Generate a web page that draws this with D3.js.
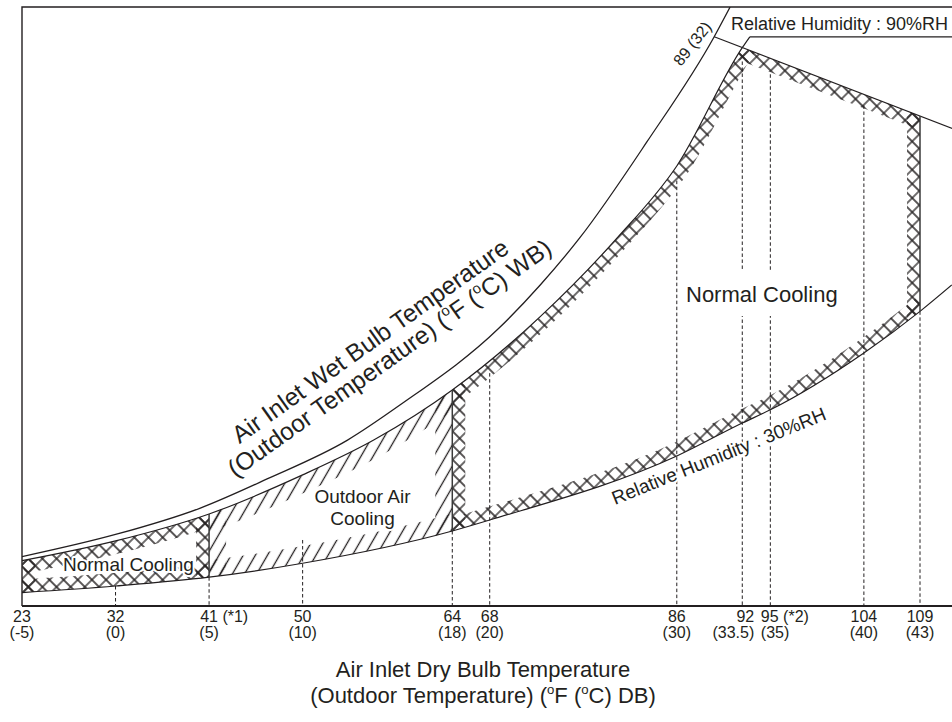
<!DOCTYPE html>
<html>
<head>
<meta charset="utf-8">
<script src="https://cdnjs.cloudflare.com/ajax/libs/d3/7.8.5/d3.min.js"></script>
<style>
body { margin: 0; background: #fff; }
text { font-family: "Liberation Sans", Arial, Helvetica, sans-serif; fill: #231f20; }
</style>
</head>
<body>
<script>
// dry bulb ticks: Fahrenheit label, Celsius value, footnote mark
var tickF = ["23", "32", "41", "50", "64", "68", "86", "92", "95", "104", "109"];
var tickC = [-5, 0, 5, 10, 18, 20, 30, 33.5, 35, 40, 43];
var tickNote = ["", "", "(*1)", "", "", "", "", "", "(*2)", "", ""];
// humidity (g/kg) where each dashed drop line starts
var dropTop = [null, 1.09, 1.57, 3.6, 4.09, 12.7, 23.2, 29.7, 29.0, 27.3, 16.07];

// saturation curve (wet bulb temperature)
var satC = [-5, 0, 4.5, 8.1, 12.4, 15.2, 20.5, 22.7, 24.8, 28.4, 32, 32.85];
var satW = [2.69, 3.9, 5.33, 6.93, 9.05, 10.96, 15.16, 17.51, 20.06, 25.31, 31.05, 32.67];

// 90%RH curve (upper limit of the regions)
var rh90C = [-5, 0, 5, 10, 13.8, 18, 22.7, 26.8, 30, 33.5, 33.9];
var rh90W = [2.47, 3.55, 5.02, 7.15, 9.05, 11.78, 15.78, 20.06, 24.0, 30.45, 31.04];

// 30%RH curve (lower limit)
var rh30C = [-5, 0, 5, 10, 18, 20, 30, 33.5, 35, 40, 43, 44.7];
var rh30W = [0.73, 1.09, 1.57, 2.33, 4.09, 4.69, 8.18, 9.98, 10.7, 13.8, 16.07, 17.51];

// 89F (32C) wet bulb line
var wbC = [32, 46];
var wbW = [31.05, 25.54];

// 90%RH label leader
var leaderC = [33.9, 46];
var leaderW = 31.04;

// operating regions
var regionName = ["Normal Cooling", "Outdoor Air Cooling", "Normal Cooling"];
var regionFrom = [-5, 5, 18];
var regionTo = [5, 18, 43];

// solid region edges
var edgeC = [5, 18, 43];
var edgeLow = [1.57, 4.09, 16.07];
var edgeHigh = [5.02, 11.78, 26.72];


var width = 952, height = 722;
var ink = "#231f20";

var x = d3.scaleLinear().domain([-5, 43]).range([22, 920]);
var y = d3.scaleLinear().domain([0, 32.67]).range([606, 7]);

var svg = d3.select("body").append("svg")
	.attr("width", width)
	.attr("height", height)
	.style("display", "block");
var defs = svg.append("defs");

function toPts(cs, ws) {
	return cs.map(function(c, i) { return [x(c), y(ws[i])]; });
}
var line = d3.line().curve(d3.curveMonotoneX);
var satPts = toPts(satC, satW);
var rh90Pts = toPts(rh90C, rh90W);
var rh30Pts = toPts(rh30C, rh30W);
var wbPts = toPts(wbC, wbW);

// hatch patterns
var cross = defs.append("pattern").attr("id", "cross")
	.attr("patternUnits", "userSpaceOnUse")
	.attr("width", 10).attr("height", 10)
	.attr("patternTransform", "rotate(45)");
cross.append("path").attr("d", "M0,5H10M5,0V10")
	.attr("stroke", ink).attr("stroke-width", 1.3);

var slash = defs.append("pattern").attr("id", "slash")
	.attr("patternUnits", "userSpaceOnUse")
	.attr("width", 10.5).attr("height", 10.5)
	.attr("patternTransform", "rotate(30)");
slash.append("path").attr("d", "M5.25,0V10.5")
	.attr("stroke", ink).attr("stroke-width", 1.3);

// clip shapes: below 90%RH, below the wet bulb line, above 30%RH
function clip(id, d) {
	defs.append("clipPath").attr("id", id).append("path").attr("d", d);
}
var far = width + 80;
clip("below90", line(rh90Pts) + "L" + far + ",0L" + far + "," + height +
	"L0," + height + "L0," + rh90Pts[0][1] + "Z");
clip("belowWB", "M0,0L" + wbPts[0] + "L" + wbPts[1] + "L" + wbPts[1][0] + "," + height +
	"L0," + height + "Z");
var q1 = rh30Pts[rh30Pts.length - 1];
clip("above30", line(rh30Pts) + "L" + far + "," + q1[1] + "L" + far + ",0L0,0L0," +
	rh30Pts[0][1] + "Z");
defs.append("clipPath").attr("id", "plot").append("rect")
	.attr("x", x(-5)).attr("y", y(32.67))
	.attr("width", width - x(-5)).attr("height", y(0) - y(32.67));

// hatched band along the inside of every region border
regionFrom.forEach(function(c0, i) {
	var c1 = regionTo[i];
	defs.append("clipPath").attr("id", "span" + i).append("rect")
		.attr("x", x(c0)).attr("y", 0)
		.attr("width", x(c1) - x(c0)).attr("height", height);
	var hatch = regionName[i] == "Outdoor Air Cooling" ? "slash" : "cross";
	var band = hatch == "slash" ? 17 : 13;
	var g = svg.append("g").attr("clip-path", "url(#span" + i + ")")
		.append("g").attr("clip-path", "url(#below90)")
		.append("g").attr("clip-path", "url(#belowWB)")
		.append("g").attr("clip-path", "url(#above30)");
	var borders = [line(rh90Pts), line(wbPts), line(rh30Pts),
		"M" + x(c0) + ",0V" + height, "M" + x(c1) + ",0V" + height];
	g.selectAll("path").data(borders).enter().append("path")
		.attr("d", function(d) { return d; })
		.attr("fill", "none")
		.attr("stroke", "url(#" + hatch + ")")
		.attr("stroke-width", band * 2);
});

// dashed drop lines to the axis
svg.append("g").selectAll("line").data(tickC.slice(1)).enter().append("line")
	.attr("x1", function(d) { return x(d); })
	.attr("x2", function(d) { return x(d); })
	.attr("y1", function(d, i) { return y(dropTop[i + 1]); })
	.attr("y2", y(0))
	.attr("stroke", ink).attr("stroke-width", 1)
	.attr("stroke-dasharray", "3.5,2.5");

// tick labels
var tickG = svg.append("g").attr("font-size", 16);
tickC.forEach(function(c, i) {
	var px = x(c);
	var top = tickG.append("text").attr("y", 622)
		.text(tickF[i] + (tickNote[i] ? " " + tickNote[i] : ""));
	var bottom = tickG.append("text").attr("y", 638).text("(" + c + ")");
	if (c == 33.5) {
		top.attr("x", px + 12).attr("text-anchor", "end");
		bottom.attr("x", px + 12).attr("text-anchor", "end");
	} else if (c == 35) {
		top.attr("x", px - 9.5);
		bottom.attr("x", px - 9.5);
	} else {
		// center the number itself, footnote hangs to the right
		var probe = tickG.append("text").text(tickF[i]);
		var w = probe.node().getComputedTextLength();
		probe.remove();
		top.attr("x", px - w / 2);
		bottom.attr("x", px).attr("text-anchor", "middle");
	}
});

// text with raised small "o" for degrees
function degText(t, parts, size) {
	parts.forEach(function(p, k) {
		var s = t.append("tspan").text(p);
		if (k % 2 == 1) {
			s.attr("font-size", size * 0.6).attr("dy", -size * 0.4);
		} else if (k > 0) {
			s.attr("dy", size * 0.4);
		}
	});
}

function halo(t) {
	t.attr("stroke", "#fff").attr("stroke-width", 4)
		.attr("stroke-linejoin", "round").attr("paint-order", "stroke");
}

// axis title
svg.append("text").attr("x", 483).attr("y", 677).attr("text-anchor", "middle")
	.attr("font-size", 22).text("Air Inlet Dry Bulb Temperature");
degText(svg.append("text").attr("x", 483).attr("y", 703).attr("text-anchor", "middle")
	.attr("font-size", 22), ["(Outdoor Temperature) (", "o", "F (", "o", "C) DB)"], 22);

// wet bulb title along the saturation curve
var wbT = svg.append("g").attr("transform", "translate(375,348) rotate(-35.4)")
	.attr("font-size", 24.5);
wbT.append("text").attr("text-anchor", "middle").text("Air Inlet Wet Bulb Temperature");
degText(wbT.append("text").attr("x", 6).attr("y", 25).attr("text-anchor", "middle"),
	["(Outdoor Temperature) (", "o", "F (", "o", "C) WB)"], 24.5);

// region names
var nc1 = svg.append("text").attr("x", 63).attr("y", 571).attr("font-size", 19)
	.text(regionName[0]);
halo(nc1);
var oac = svg.append("text").attr("font-size", 19).attr("text-anchor", "middle");
oac.append("tspan").attr("x", 362.5).attr("y", 503).text("Outdoor Air");
oac.append("tspan").attr("x", 362.5).attr("y", 525).text("Cooling");
halo(oac);
var nc2 = svg.append("text").attr("x", 686).attr("y", 302).attr("font-size", 22)
	.text(regionName[2]);
var b = nc2.node().getBBox();
svg.insert("rect", function() { return nc2.node(); })
	.attr("x", b.x - 3).attr("y", 271).attr("width", b.width + 6).attr("height", 45)
	.attr("fill", "#fff");

// curve labels
var rh30T = svg.append("text").attr("transform", "translate(615,505) rotate(-22)")
	.attr("font-size", 19).text("Relative Humidity : 30%RH");
halo(rh30T);
svg.append("text").attr("x", 731).attr("y", 30).attr("font-size", 18)
	.text("Relative Humidity : 90%RH");
svg.append("text").attr("transform", "translate(681,67) rotate(-52)")
	.attr("font-size", 16).text("89 (32)");

// curves
var curves = svg.append("g").attr("clip-path", "url(#plot)")
	.attr("fill", "none").attr("stroke", ink);
curves.append("path").attr("d", line(satPts)).attr("stroke-width", 1.3);
curves.append("path").attr("d", line(rh90Pts)).attr("stroke-width", 1.2);
curves.append("path").attr("d", line(rh30Pts)).attr("stroke-width", 1.2);
curves.append("path").attr("d", line(wbPts)).attr("stroke-width", 1.2);
curves.append("line")
	.attr("x1", x(leaderC[0])).attr("x2", x(leaderC[1]))
	.attr("y1", y(leaderW)).attr("y2", y(leaderW))
	.attr("stroke-width", 1.2);
curves.selectAll(".edge").data(edgeC).enter().append("line")
	.attr("class", "edge")
	.attr("x1", function(d) { return x(d); })
	.attr("x2", function(d) { return x(d); })
	.attr("y1", function(d, i) { return y(edgeLow[i]); })
	.attr("y2", function(d, i) { return y(edgeHigh[i]); })
	.attr("stroke", "#3a3a3a").attr("stroke-width", 1.5);

// frame and axis
svg.append("path")
	.attr("d", "M" + width + "," + y(32.67) + "H" + x(-5) + "V" + y(0))
	.attr("fill", "none").attr("stroke", ink).attr("stroke-width", 1.4);
svg.append("line")
	.attr("x1", x(-5)).attr("x2", width)
	.attr("y1", y(0)).attr("y2", y(0))
	.attr("stroke", ink).attr("stroke-width", 1.8);
</script>
</body>
</html>
